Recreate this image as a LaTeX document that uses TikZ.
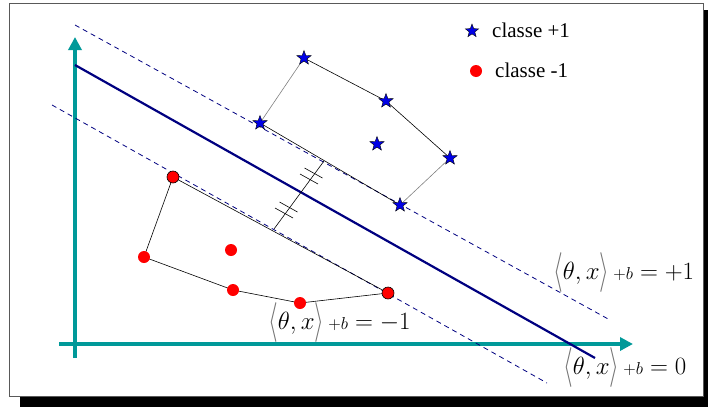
\documentclass[tikz,border=0pt]{standalone}
\usepackage{fontspec}
\usepackage{graphicx}
\setmainfont{Liberation Serif}
\usetikzlibrary{shapes.geometric,arrows.meta}
\definecolor{axisteal}{RGB}{0,153,153}
\definecolor{navyline}{RGB}{0,0,128}
\definecolor{starblue}{RGB}{0,0,230}
\definecolor{dotred}{RGB}{255,0,0}
\tikzset{
  axisline/.style={axisteal,line width=3.5pt,-{Triangle[length=13pt,width=13pt]}},
  hyper/.style={navyline,line width=2.2pt},
  margin/.style={navyline,line width=0.8pt,dash pattern=on 5pt off 4pt},
  starpt/.style={star,star points=5,star point ratio=2.4,minimum size=15pt,inner sep=0pt,fill=starblue,draw=black,line width=0.4pt},
  dotpt/.style={circle,minimum size=12pt,inner sep=0pt,fill=dotred},
  dotsv/.style={dotpt,draw=black,line width=0.6pt},
  hull/.style={black,line width=0.6pt},
  hullg/.style={gray,line width=0.6pt},
  tick/.style={black,line width=0.6pt},
  lbl/.style={inner sep=0pt,font=\fontsize{21}{24}\selectfont},
  eqn/.style={inner sep=0pt}
}
\newcommand{\tallbr}[1]{\vcenter{\hbox{\color{black!55}\scalebox{1}[1.6]{$#1$}}}}
\newcommand{\eqlabel}[1]{\fontsize{25}{29}\selectfont$\tallbr{\langle}\theta,x\tallbr{\rangle}\,{\scriptstyle+b}=#1$}
\begin{document}
\begin{tikzpicture}[x=1pt,y=-1pt]
\useasboundingbox (0,0) rectangle (708,407);
% frame and shadow
\fill[black] (20,396) rectangle (708,407);
\fill[black] (703,10) rectangle (708,407);
\draw[gray!70!black,line width=0.8pt] (9,3) rectangle (703,396);
% axes
\coordinate (o1) at (75,358);
\coordinate (ytip) at (75,37);
\coordinate (o2) at (59,344);
\coordinate (xtip) at (633,344);
\draw[axisline] (o1) -- (ytip);
\draw[axisline] (o2) -- (xtip);
% hyperplane and margins
\coordinate (h1) at (75,65);
\coordinate (h2) at (595,358);
\coordinate (u1) at (75,25);
\coordinate (u2) at (610,320);
\coordinate (l1) at (52,105);
\coordinate (l2) at (547,383);
\draw[margin] (u1) -- (u2);
\draw[margin] (l1) -- (l2);
\draw[hyper] (h1) -- (h2);
% margin width marker
\coordinate (pa) at (274,229);
\coordinate (pb) at (324,161);
\draw[tick] (pa) -- (pb);
\foreach \cx/\cy in {313.5/173, 309/179, 288.5/207, 284/213}{
  \draw[tick] (\cx-9,\cy-5) -- (\cx+9,\cy+5);
}
% hull lines (drawn before points)
\coordinate (c1) at (173,177);
\coordinate (c2) at (144,257);
\coordinate (c4) at (233,290);
\coordinate (c5) at (300,303);
\coordinate (c6) at (388,293);
\coordinate (s1) at (260,123);
\coordinate (s2) at (304,58);
\coordinate (s3) at (386,101);
\coordinate (s5) at (450,158);
\coordinate (s6) at (400,205);
\draw[hullg] (s1) -- (s2);
\draw[hull] (s2) -- (s3) -- (s5);
\draw[hullg] (s5) -- (s6);
\draw[hull] (s6) -- (s1);
\draw[hull] (c1) -- (c2) -- (c4) -- (c5) -- (c6) -- (c1);
% points
\node[starpt] (S1) at (s1) {};
\node[starpt] (S2) at (s2) {};
\node[starpt] (S3) at (s3) {};
\node[starpt] (S4) at (377,144) {};
\node[starpt] (S5) at (s5) {};
\node[starpt] (S6) at (s6) {};
\node[dotsv] (C1) at (c1) {};
\node[dotpt] (C2) at (c2) {};
\node[dotpt] (C3) at (231,250) {};
\node[dotpt] (C4) at (c4) {};
\node[dotpt] (C5) at (c5) {};
\node[dotsv] (C6) at (c6) {};
% legend
\node[starpt,minimum size=14pt] (LS) at (472,31) {};
\node[dotpt] (LC) at (476,71) {};
\node[lbl,anchor=west] (LT1) at (492,30) {classe +1};
\node[lbl,anchor=west] (LT2) at (495,70) {classe -1};
% equations
\node[eqn,anchor=west] (E1) at (553,273) {\eqlabel{+1}};
\node[eqn,anchor=west] (E2) at (268,323) {\eqlabel{-1}};
\node[eqn,anchor=west] (E0) at (563,368) {\eqlabel{0}};
\end{tikzpicture}
\end{document}
